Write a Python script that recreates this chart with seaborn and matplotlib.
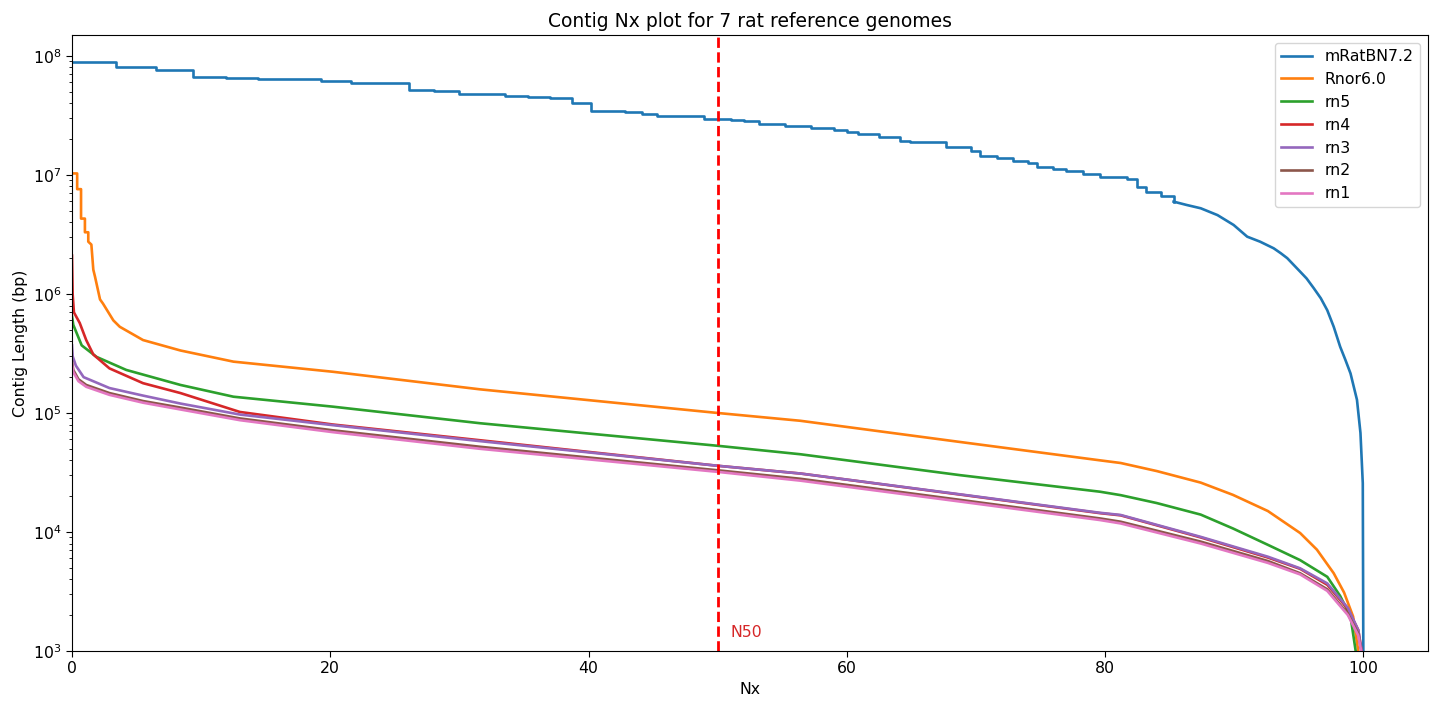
import matplotlib
matplotlib.use("Agg")
import matplotlib.pyplot as plt
import seaborn as sns
import pandas as pd

# ---- data ----
mrat_nx = [0, 3.4, 6.5, 9.4, 11.9, 14.4, 16.8, 19.3, 21.6, 23.9, 26.1, 28.0, 30.0,
           33.5, 35.3, 37.0, 38.7, 40.2, 42.8, 44.1, 45.3, 48.9, 51.0, 52.0, 53.2,
           55.2, 57.2, 59.0, 60.0, 60.9, 62.5, 64.1, 64.9, 67.7, 69.6, 70.3, 71.6,
           72.9, 74.0, 74.7, 76.0, 77.0, 78.3, 79.6, 81.7, 82.5, 83.2, 84.3, 85.3,
           86.3, 87.4, 88.7, 89.95, 91.0, 92.0, 93.05, 93.6, 94.1, 95.1, 95.6, 96.15,
           96.7, 97.2, 97.7, 98.2, 98.6, 99.0, 99.5, 99.77, 99.95, 100.0]
mrat_len = [8.96e7, 8.13e7, 7.59e7, 6.66e7, 6.58e7, 6.45e7, 6.37e7, 6.12e7, 5.97e7,
            5.89e7, 5.17e7, 5.05e7, 4.76e7, 4.64e7, 4.53e7, 4.47e7, 4.05e7, 3.47e7,
            3.36e7, 3.26e7, 3.13e7, 2.97e7, 2.90e7, 2.84e7, 2.69e7, 2.58e7, 2.47e7,
            2.39e7, 2.28e7, 2.21e7, 2.10e7, 1.94e7, 1.89e7, 1.71e7, 1.60e7, 1.445e7,
            1.38e7, 1.32e7, 1.25e7, 1.175e7, 1.12e7, 1.07e7, 1.01e7, 9.7e6, 9.2e6,
            7.95e6, 7.16e6, 6.6e6, 5.97e6, 5.6e6, 5.25e6, 4.6e6, 3.8e6, 3.03e6, 2.75e6,
            2.42e6, 2.2e6, 2.0e6, 1.54e6, 1.35e6, 1.12e6, 9.2e5, 7.3e5, 5.3e5, 3.6e5,
            2.8e5, 2.15e5, 1.29e5, 6.8e4, 2.57e4, 5.0e2]

rnor6_nx = [0, 0.4, 0.4, 0.7, 0.7, 1.0, 1.0, 1.26, 1.26, 1.5, 1.65, 1.78, 2.17, 2.4,
            3.2, 3.7, 5.5, 8.4, 12.5, 20.2, 31.6, 50.0, 56.4, 68.8, 79.6, 81.2,
            84.0, 87.4, 89.9, 92.6, 95.1, 96.4, 97.7, 98.5, 99.2, 99.6, 100.0]
rnor6_len = [1.03e7, 1.03e7, 7.6e6, 7.6e6, 4.3e6, 4.3e6, 3.3e6, 3.3e6, 2.75e6, 2.6e6,
             1.6e6, 1.4e6, 9.0e5, 8.3e5, 6.0e5, 5.3e5, 4.1e5, 3.35e5, 2.7e5, 2.22e5,
             1.58e5, 1.0e5, 8.6e4, 5.7e4, 4.0e4, 3.8e4, 3.25e4, 2.6e4, 2.05e4, 1.5e4,
             9.8e3, 7.1e3, 4.5e3, 3.1e3, 1.95e3, 1.0e3, 5.0e2]

rn5_nx = [0, 0.1, 0.75, 1.9, 4.2, 8.4, 12.5, 20.2, 31.6, 50.0, 56.4, 68.8, 79.6,
          81.2, 84.0, 87.4, 89.9, 92.6, 95.1, 97.2, 98.2, 99.0, 99.4, 99.6]
rn5_len = [6.5e5, 5.5e5, 3.7e5, 2.96e5, 2.3e5, 1.72e5, 1.37e5, 1.13e5, 8.2e4, 5.3e4,
           4.5e4, 3.0e4, 2.18e4, 2.04e4, 1.75e4, 1.4e4, 1.07e4, 7.8e3, 5.8e3, 4.2e3,
           2.9e3, 1.95e3, 1.0e3, 5.0e2]

rn4_nx = [0, 0.05, 0.15, 0.6, 1.1, 1.65, 2.9, 5.5, 8.4, 13.0, 20.2, 31.6, 50.0,
          56.4, 68.8, 79.6, 81.2, 87.4, 92.6, 95.1, 97.2, 98.8, 99.6, 100.0]
rn4_len = [2.1e6, 1.0e6, 7.0e5, 5.7e5, 4.1e5, 3.1e5, 2.37e5, 1.78e5, 1.47e5, 1.02e5,
           8.0e4, 5.9e4, 3.6e4, 3.1e4, 2.06e4, 1.44e4, 1.38e4, 9.0e3, 6.1e3, 4.9e3,
           3.6e3, 2.25e3, 1.5e3, 8.0e2]

rn3_nx = [0, 0.05, 0.3, 0.9, 2.9, 5.5, 8.4, 13.0, 20.2, 31.6, 50.0, 56.4, 68.8,
          79.6, 81.2, 87.4, 92.6, 95.1, 97.2, 98.8, 99.6, 100.0]
rn3_len = [3.7e5, 3.0e5, 2.5e5, 2.0e5, 1.62e5, 1.4e5, 1.2e5, 9.7e4, 7.9e4, 5.8e4,
           3.6e4, 3.1e4, 2.07e4, 1.45e4, 1.39e4, 9.1e3, 6.2e3, 4.95e3, 3.7e3, 2.3e3,
           1.5e3, 8.0e2]

rn2_nx = [0, 0.1, 0.5, 1.1, 2.9, 5.5, 8.4, 13.0, 20.2, 31.6, 50.0, 56.4, 68.8,
          79.6, 81.2, 87.4, 92.6, 95.1, 97.2, 98.8, 99.6, 100.0]
rn2_len = [2.7e5, 2.3e5, 1.92e5, 1.72e5, 1.47e5, 1.26e5, 1.11e5, 9.0e4, 7.15e4, 5.2e4,
           3.3e4, 2.8e4, 1.86e4, 1.3e4, 1.22e4, 8.3e3, 5.7e3, 4.5e3, 3.3e3, 2.05e3,
           1.4e3, 8.0e2]

rn1_nx = [0, 0.1, 0.5, 1.1, 2.9, 5.5, 8.4, 13.0, 20.2, 31.6, 50.0, 56.4, 68.8,
          79.6, 81.2, 87.4, 92.6, 95.1, 97.2, 98.8, 99.6, 100.0]
rn1_len = [2.6e5, 2.2e5, 1.85e5, 1.66e5, 1.42e5, 1.22e5, 1.07e5, 8.7e4, 6.9e4, 5.0e4,
           3.2e4, 2.7e4, 1.8e4, 1.26e4, 1.18e4, 8.0e3, 5.5e3, 4.4e3, 3.2e3, 2.0e3,
           1.35e3, 8.0e2]

assemblies = ["mRatBN7.2", "Rnor6.0", "rn5", "rn4", "rn3", "rn2", "rn1"]
series = {
    "mRatBN7.2": (mrat_nx, mrat_len),
    "Rnor6.0": (rnor6_nx, rnor6_len),
    "rn5": (rn5_nx, rn5_len),
    "rn4": (rn4_nx, rn4_len),
    "rn3": (rn3_nx, rn3_len),
    "rn2": (rn2_nx, rn2_len),
    "rn1": (rn1_nx, rn1_len),
}
n50 = 50
mrat_smooth_from = 85.3   # tail of mRatBN7.2 drawn as a continuous curve

# ---- plot ----
plt.rcParams["font.size"] = 11.3
plt.rcParams["xtick.major.size"] = 4
plt.rcParams["ytick.major.size"] = 4
plt.rcParams["ytick.minor.size"] = 2.3

fig, ax = plt.subplots(figsize=(14.4, 7.02), dpi=100)
palette = sns.color_palette("tab10", len(assemblies))
lw = 1.9

for i, name in enumerate(assemblies):
    nx, ln = series[name]
    df = pd.DataFrame({"Nx": nx, "len": ln})
    if name == "mRatBN7.2":
        head = df[df["Nx"] <= mrat_smooth_from]
        tail = df[df["Nx"] >= mrat_smooth_from]
        sns.lineplot(data=head, x="Nx", y="len", ax=ax, color=palette[i], label=name,
                     estimator=None, sort=False, linewidth=lw, drawstyle="steps-post")
        sns.lineplot(data=tail, x="Nx", y="len", ax=ax, color=palette[i],
                     label="_nolegend_", estimator=None, sort=False, linewidth=lw)
    else:
        sns.lineplot(data=df, x="Nx", y="len", ax=ax, color=palette[i], label=name,
                     estimator=None, sort=False, linewidth=lw)

ax.set_yscale("log")
ax.axvline(n50, color="red", linestyle="--", linewidth=2)
ax.text(n50 + 1, 1.3e3, "N50", color="#d62728", fontsize=11.3)

ax.set_xlim(0, 105)
ax.set_ylim(1e3, 1.5e8)
ax.set_xlabel("Nx")
ax.set_ylabel("Contig Length (bp)")
ax.set_title("Contig Nx plot for 7 rat reference genomes", fontsize=13.5)
ax.legend(loc="upper right", fontsize=11.3)

fig.subplots_adjust(left=72 / 1440, right=1428 / 1440, top=1 - 35 / 702,
                    bottom=1 - 651 / 702)
fig.savefig("out.png", dpi=100)
